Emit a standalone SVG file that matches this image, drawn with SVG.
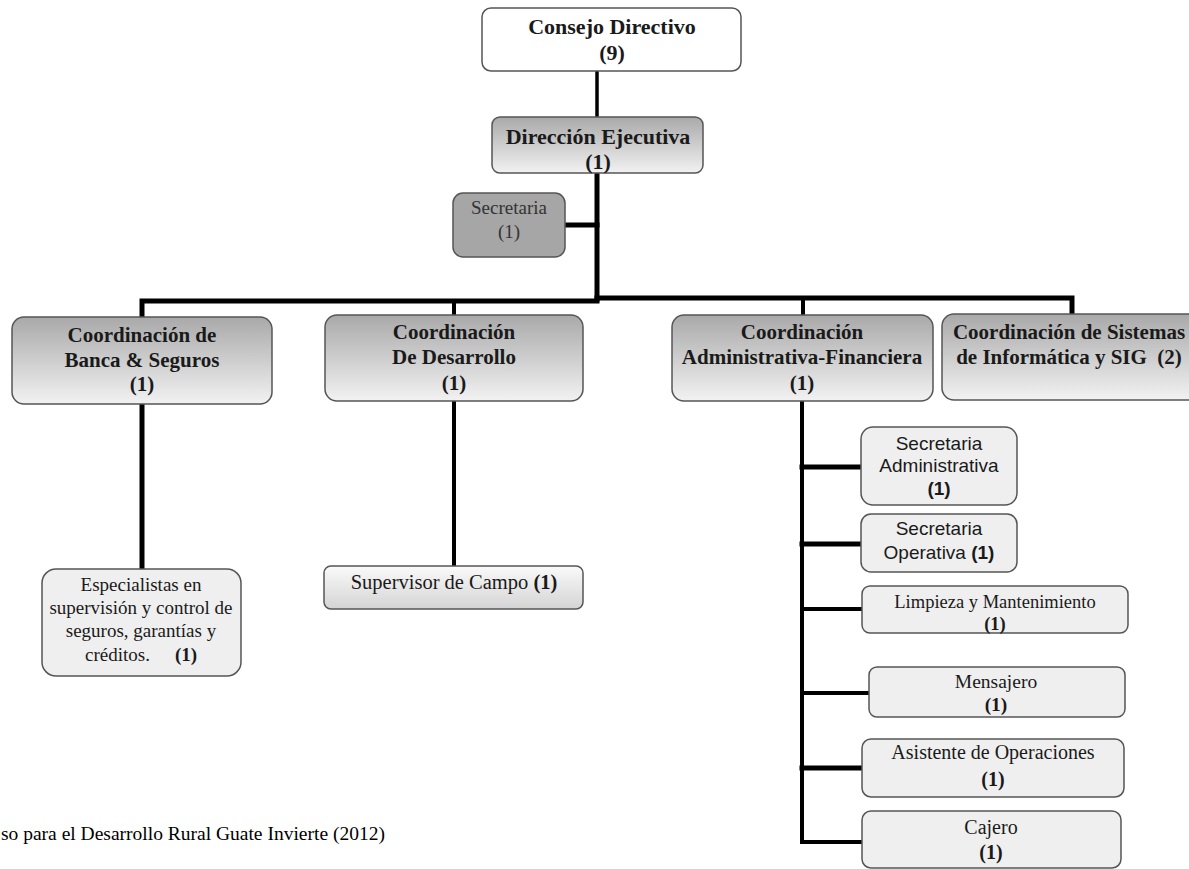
<svg xmlns="http://www.w3.org/2000/svg" width="1189" height="869" viewBox="0 0 1189 869">
<defs>
<linearGradient id="gDark" x1="0" y1="0" x2="0" y2="1">
<stop offset="0" stop-color="#a9a9a9"/>
<stop offset="1" stop-color="#f2f2f2"/>
</linearGradient>
<linearGradient id="gLight" x1="0" y1="0" x2="0" y2="1">
<stop offset="0" stop-color="#fafafa"/>
<stop offset="1" stop-color="#d4d4d4"/>
</linearGradient>
</defs>
<style>
.box{stroke:#555;stroke-width:1.5}
.white{fill:#ffffff}
.dark{fill:url(#gDark)}
.light{fill:url(#gLight)}
.sub{fill:#efefef}
.grey{fill:#a6a6a6}
.hd{font-family:"Liberation Serif","Times New Roman",serif;font-weight:bold;fill:#1a1a1a;text-anchor:middle}
.tx{font-family:"Liberation Serif","Times New Roman",serif;fill:#1a1a1a;text-anchor:middle}
.sn{font-family:"Liberation Sans",Arial,sans-serif;fill:#1a1a1a;text-anchor:middle}
.b{font-weight:bold}
.ln{stroke:#000;fill:none;stroke-linecap:square}
</style>

<g id="connectors">
<line class="ln" x1="597" y1="71" x2="597" y2="117" stroke-width="3.5"/>
<line class="ln" x1="597" y1="173" x2="597" y2="299" stroke-width="5"/>
<line class="ln" x1="565" y1="225" x2="597" y2="225" stroke-width="5"/>
<polyline class="ln" points="142,317 142,301 597,301" stroke-width="5"/>
<polyline class="ln" points="597,298 1072,298 1072,314" stroke-width="5"/>
<line class="ln" x1="454" y1="301" x2="454" y2="315" stroke-width="4"/>
<line class="ln" x1="803" y1="298" x2="803" y2="315" stroke-width="4"/>
<line class="ln" x1="142" y1="404" x2="142" y2="569" stroke-width="5"/>
<line class="ln" x1="454" y1="401" x2="454" y2="566" stroke-width="4"/>
<polyline class="ln" points="802,400 802,842 862,842" stroke-width="4"/>
<line class="ln" x1="802" y1="467" x2="861" y2="467" stroke-width="5"/>
<line class="ln" x1="802" y1="544" x2="861" y2="544" stroke-width="5"/>
<line class="ln" x1="802" y1="609" x2="862" y2="609" stroke-width="4"/>
<line class="ln" x1="802" y1="693" x2="869" y2="693" stroke-width="4"/>
<line class="ln" x1="802" y1="768" x2="862" y2="768" stroke-width="5"/>
</g>

<g id="consejo">
<rect class="box white" x="482" y="8" width="259" height="63" rx="9"/>
<text class="hd" x="612" y="34" font-size="22">Consejo Directivo</text>
<text class="hd" x="612" y="60" font-size="22">(9)</text>
</g>

<g id="direccion">
<rect class="box dark" x="492" y="117" width="211" height="56" rx="8"/>
<text class="hd" x="598" y="144" font-size="22">Dirección Ejecutiva</text>
<text class="hd" x="598" y="169" font-size="22">(1)</text>
</g>

<g id="secretaria">
<rect class="box grey" x="453" y="193" width="112" height="64" rx="10"/>
<text class="tx" x="509" y="214" font-size="19" style="fill:#333">Secretaria</text>
<text class="tx" x="509" y="238" font-size="19" style="fill:#333">(1)</text>
</g>

<g id="banca">
<rect class="box dark" x="12" y="317" width="260" height="87" rx="12"/>
<text class="hd" x="142" y="342" font-size="21">Coordinación de</text>
<text class="hd" x="142" y="367" font-size="21">Banca &amp; Seguros</text>
<text class="hd" x="142" y="391" font-size="21">(1)</text>
</g>

<g id="desarrollo">
<rect class="box dark" x="325" y="315" width="258" height="86" rx="12"/>
<text class="hd" x="454" y="339" font-size="21">Coordinación</text>
<text class="hd" x="454" y="364" font-size="21">De Desarrollo</text>
<text class="hd" x="454" y="390" font-size="21">(1)</text>
</g>

<g id="admfin">
<rect class="box dark" x="672" y="315" width="261" height="86" rx="12"/>
<text class="hd" x="802" y="339" font-size="21">Coordinación</text>
<text class="hd" x="802" y="364" font-size="21">Administrativa-Financiera</text>
<text class="hd" x="802" y="390" font-size="21">(1)</text>
</g>

<g id="sistemas">
<rect class="box dark" x="942" y="314" width="260" height="86" rx="12"/>
<text class="hd" x="1069" y="339" font-size="21">Coordinación de Sistemas</text>
<text class="hd" x="1069" y="364" font-size="21" xml:space="preserve">de Informática y SIG  (2)</text>
</g>

<g id="especialistas">
<rect class="box sub" x="42" y="569" width="199" height="107" rx="14"/>
<text class="tx" x="141" y="591" font-size="19">Especialistas en</text>
<text class="tx" x="141" y="614" font-size="19">supervisión y control de</text>
<text class="tx" x="141" y="637" font-size="19">seguros, garantías y</text>
<text class="tx" x="85" y="661" font-size="19" style="text-anchor:start">créditos.</text>
<text class="tx b" x="175" y="661" font-size="19" style="text-anchor:start">(1)</text>
</g>

<g id="supervisor">
<rect class="box light" x="324" y="566" width="259" height="43" rx="7"/>
<text class="tx" x="454" y="589" font-size="20.5">Supervisor de Campo <tspan class="b">(1)</tspan></text>
</g>

<g id="sec-adm">
<rect class="box sub" x="861" y="427" width="156" height="78" rx="12"/>
<text class="sn" x="939" y="450" font-size="19">Secretaria</text>
<text class="sn" x="939" y="472" font-size="19">Administrativa</text>
<text class="sn b" x="939" y="495" font-size="19">(1)</text>
</g>

<g id="sec-op">
<rect class="box sub" x="861" y="514" width="156" height="58" rx="10"/>
<text class="sn" x="939" y="535" font-size="19">Secretaria</text>
<text class="sn" x="939" y="559" font-size="19">Operativa <tspan class="b">(1)</tspan></text>
</g>

<g id="limpieza">
<rect class="box sub" x="862" y="586" width="266" height="47" rx="8"/>
<text class="tx" x="995" y="608" font-size="18.5">Limpieza y Mantenimiento</text>
<text class="tx b" x="995" y="630" font-size="18.5">(1)</text>
</g>

<g id="mensajero">
<rect class="box sub" x="869" y="667" width="256" height="50" rx="8"/>
<text class="tx" x="996" y="688" font-size="19.5">Mensajero</text>
<text class="tx b" x="996" y="711" font-size="19.5">(1)</text>
</g>

<g id="asistente">
<rect class="box sub" x="862" y="739" width="262" height="58" rx="9"/>
<text class="tx" x="993" y="759" font-size="20">Asistente de Operaciones</text>
<text class="tx b" x="993" y="786" font-size="20">(1)</text>
</g>

<g id="cajero">
<rect class="box sub" x="862" y="811" width="259" height="57" rx="9"/>
<text class="tx" x="991" y="834" font-size="20">Cajero</text>
<text class="tx b" x="991" y="859" font-size="20">(1)</text>
</g>

<text x="1" y="840" font-family="'Liberation Serif','Times New Roman',serif" font-size="19.5" fill="#000">so para el Desarrollo Rural Guate Invierte (2012)</text>
</svg>
